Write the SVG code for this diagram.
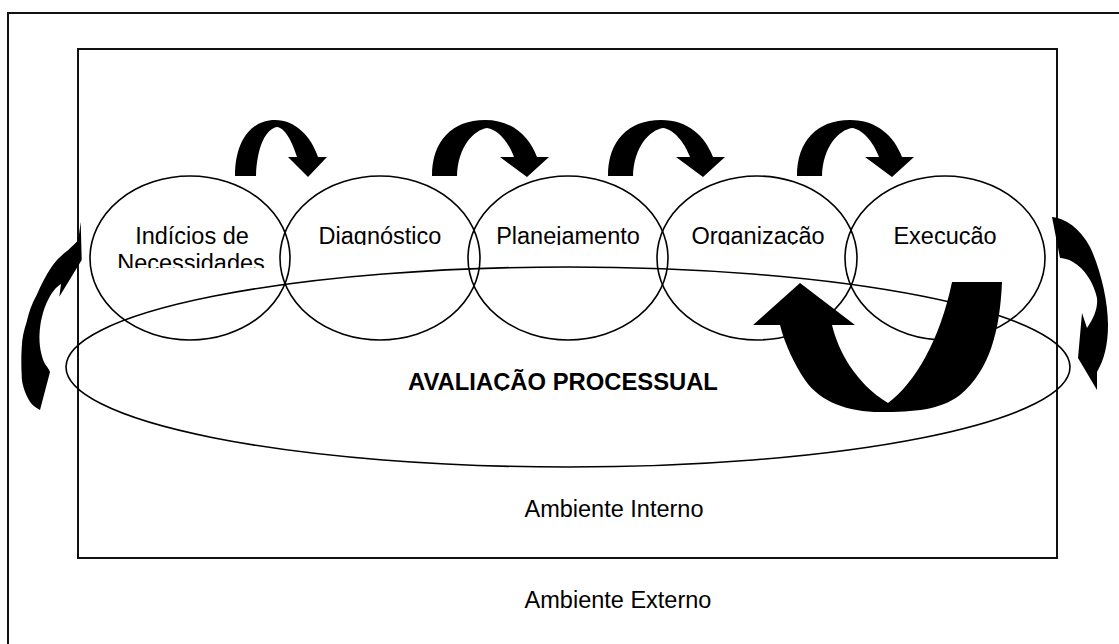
<svg xmlns="http://www.w3.org/2000/svg" width="1119" height="644" viewBox="0 0 1119 644">
<style>
.frame{fill:none;stroke:#111;stroke-width:2}
.node{fill:none;stroke:#000;stroke-width:1.6}
.lbl{font-family:"Liberation Sans",Arial,sans-serif;font-size:23.5px;fill:#000;text-anchor:middle}
.bold{font-weight:bold;font-size:23.8px}
.arr{fill:#000;stroke:none}
</style>
<defs>
<clipPath id="c1"><rect x="80" y="200" width="220" height="68"/></clipPath>
<clipPath id="cs"><rect x="0" y="200" width="1119" height="45"/></clipPath>
<clipPath id="cb"><rect x="0" y="350" width="1119" height="41"/></clipPath>
<path id="topA" d="M0,0 C0,-35 20,-56 53,-56 C80,-56 97,-40 105,-19 L117,-19 L95,1 L68,-19 L82,-19 C76,-35 65,-47 55,-48 C42,-46 26,-30 25,0 Z"/>
</defs>
<rect class="frame" x="8" y="13" width="1130" height="650"/>
<rect class="frame" x="78" y="49" width="979" height="509"/>
<g id="avaliacao">
<ellipse class="node" cx="568" cy="367" rx="502" ry="100"/>
<text class="lbl bold" x="563" y="390" clip-path="url(#cb)">AVALIAÇÃO PROCESSUAL</text>
</g>
<g id="indicios">
<ellipse class="node" cx="190" cy="258" rx="100" ry="82"/>
<g clip-path="url(#c1)">
<text class="lbl" x="192" y="244">Indícios de</text>
<text class="lbl" x="191" y="271">Necessidades</text>
</g>
</g>
<g id="diagnostico">
<ellipse class="node" cx="380" cy="258" rx="100" ry="82"/>
<text class="lbl" x="380" y="244" clip-path="url(#cs)">Diagnóstico</text>
</g>
<g id="planejamento">
<ellipse class="node" cx="568" cy="258" rx="100" ry="82"/>
<text class="lbl" x="568" y="244" clip-path="url(#cs)">Planejamento</text>
</g>
<g id="organizacao">
<ellipse class="node" cx="757" cy="258" rx="100" ry="82"/>
<text class="lbl" x="758" y="244" clip-path="url(#cs)">Organização</text>
</g>
<g id="execucao">
<ellipse class="node" cx="945" cy="258" rx="100" ry="82"/>
<text class="lbl" x="945" y="244" clip-path="url(#cs)">Execução</text>
</g>
<g id="ambiente-interno"><text class="lbl" x="614" y="517">Ambiente Interno</text></g>
<g id="ambiente-externo"><text class="lbl" x="618" y="608">Ambiente Externo</text></g>
<g id="connectors">
<path class="arr" d="M235,176 C235,141 251,120 275,120 C295,120 311,136 318,157 L327,157 L308,177 L288,157 L297,157 C292,141 285,128 277,127 C266,129 257,146 256,176 Z"/>
<use href="#topA" class="arr" transform="translate(432,176)"/>
<use href="#topA" class="arr" transform="translate(608,176)"/>
<use href="#topA" class="arr" transform="translate(797,176)"/>
<path class="arr" d="M80.7,221.7 L81.7,260 L59.3,296.7 L61,284 C56,287 52,292 48,300 C43,310 40,322 39.5,335 C39,347 42,358 45,364 C47,367 49,369 50,372 L40,410 C35,407 32,405 30,401.7 C24,392 21.5,382 21.7,375 C21,362 21.5,352 21.7,348.3 C22,338 24,330 26.7,321.7 C29,312 32,303 36.7,295 C41,285 46,275 51.7,266.7 C57,259 63,254 68.3,250 C72,246 76,243 78.3,240 Z"/>
<path class="arr" d="M1052,217 C1065,218 1080,228 1090,247 C1100,268 1108,300 1108,325 C1108,345 1104,360 1097,372 L1097,390 L1078,358 L1082,313 L1087,328 C1094,318 1098,308 1097,298 C1094,283 1084,268 1073,262 C1068,259 1063,258 1060,258 Z"/>
<path class="arr" d="M800,283 L855,325 L832,325 C838,350 855,383 888,403 C915,383 940,340 952,282 L1002,282 C1000,330 990,370 960,395 C940,410 915,412 880,412 C848,412 820,402 805,380 C795,365 785,345 780,325 L753,325 Z"/>
</g>
</svg>
